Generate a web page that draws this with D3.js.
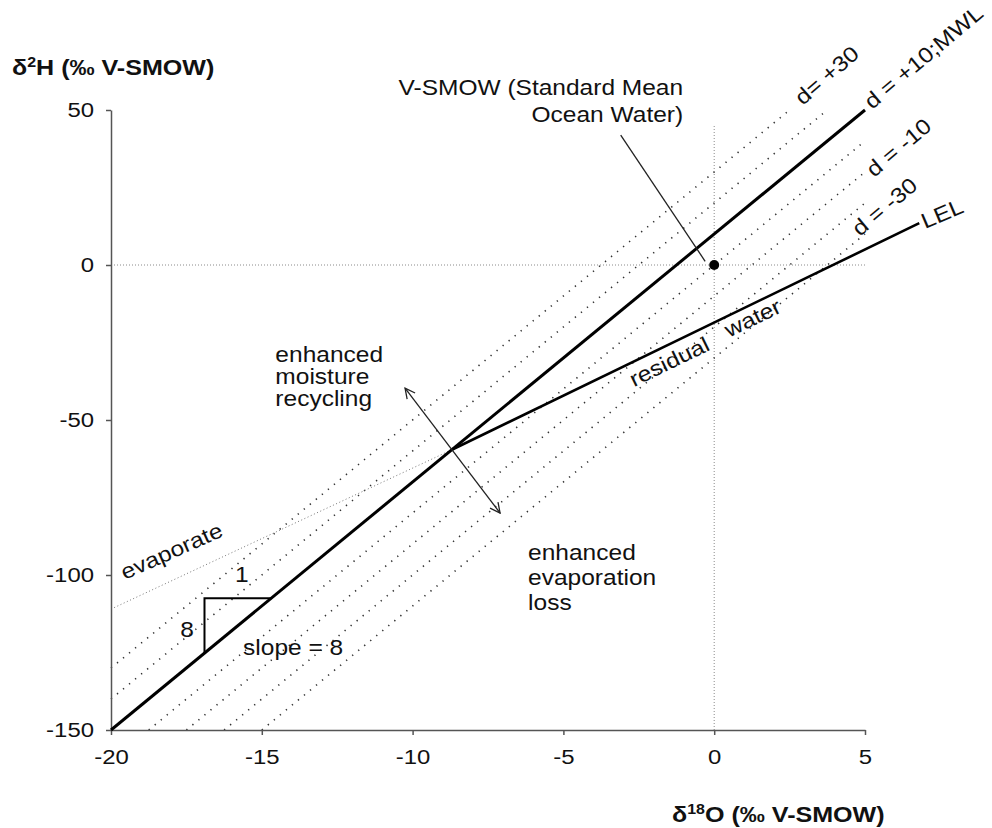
<!DOCTYPE html>
<html>
<head>
<meta charset="utf-8">
<script src="https://cdn.jsdelivr.net/npm/d3@7"></script>
<style>
  body { margin: 0; background: #fff; }
  svg { font-family: "Liberation Sans", Arial, sans-serif; }
</style>
</head>
<body>
<div id="chart1"></div>
<script>
// axis ticks
var xTicks = [-20, -15, -10, -5, 0, 5];
var yTicks = [-150, -100, -50, 0, 50];

// dotted d-excess lines, start and end points (d18O, d2H)
var dValues = [30, 20, 0, -10, -20, -30];
var dStart = [[-20, -130], [-20, -140], [-18.75, -150], [-17.5, -150], [-16.25, -150], [-15, -150]];
var dEnd = [[2.5, 50], [3.75, 50], [5, 40], [5, 30], [5, 20], [5, 10]];

// meteoric water line (d = +10)
var mwlLine = [[-20, -150], [5, 50]];
// local evaporation line and the evaporated vapour line
var lelLine = [[-8.7, -59.6], [6.8, 13.5]];
var evapLine = [[-20, -111], [-8.7, -59.6]];
// V-SMOW point and its pointer
var smowPoint = [0, 0];
var smowPointer = [[-3.1, 41.9], [-0.3, 1.2]];
// slope triangle
var slopeTri = [[-16.9, -125.2], [-16.9, -107.5], [-14.69, -107.5]];
// double arrow through the junction
var recycleArrow = [[-10.25, -39.7], [-7.1, -80]];
// zero lines
var zeroH = [[-20, 0], [5, 0]];
var zeroV = [[0, -150], [0, 45]];

var w = 992, h = 828;
var sx = 1.14; // horizontal stretch of the lettering
var fs = 21.5;

var xScale = d3.scaleLinear().domain([-20, 5]).range([111, 865]);
var yScale = d3.scaleLinear().domain([-150, 50]).range([730, 110]);

var svg = d3.select("#chart1")
    .append("svg")
    .attr("width", w)
    .attr("height", h);

var defs = svg.append("defs");
defs.append("marker")
    .attr("id", "arr")
    .attr("viewBox", "0 0 12 12")
    .attr("refX", 11)
    .attr("refY", 6)
    .attr("markerWidth", 12)
    .attr("markerHeight", 12)
    .attr("markerUnits", "userSpaceOnUse")
    .attr("orient", "auto-start-reverse")
    .append("path")
    .attr("d", "M1,1 L11,6 L1,11")
    .attr("fill", "none")
    .attr("stroke", "#222")
    .attr("stroke-width", 1.3);

var line = d3.line()
    .x(function(d) { return xScale(d[0]); })
    .y(function(d) { return yScale(d[1]); });

// zero reference lines
svg.append("path").datum(zeroH)
    .attr("d", line)
    .attr("fill", "none")
    .attr("stroke", "#8a8a8a")
    .attr("stroke-width", 1)
    .attr("stroke-dasharray", "1,2");
svg.append("path").datum(zeroV)
    .attr("d", line)
    .attr("fill", "none")
    .attr("stroke", "#8a8a8a")
    .attr("stroke-width", 1)
    .attr("stroke-dasharray", "1,2");

// dotted d-excess lines
svg.selectAll(".dline")
    .data(dValues)
    .enter()
    .append("path")
    .attr("class", "dline")
    .attr("d", function(d, i) { return line([dStart[i], dEnd[i]]); })
    .attr("fill", "none")
    .attr("stroke", "#333")
    .attr("stroke-width", 1.6)
    .attr("stroke-dasharray", "1.3,6.5");

// evaporate line
svg.append("path").datum(evapLine)
    .attr("d", line)
    .attr("fill", "none")
    .attr("stroke", "#777")
    .attr("stroke-width", 1)
    .attr("stroke-dasharray", "1,2.5");

// axes
var yAxis = svg.append("g")
    .attr("transform", "translate(" + xScale(-20) + ",0)")
    .call(d3.axisLeft(yScale).tickValues(yTicks).tickSize(5).tickSizeOuter(0).tickPadding(12));
var xAxis = svg.append("g")
    .attr("transform", "translate(0," + yScale(-150) + ")")
    .call(d3.axisBottom(xScale).tickValues(xTicks).tickSize(5).tickSizeOuter(0).tickPadding(14));

[yAxis, xAxis].forEach(function(a) {
  a.select(".domain").attr("stroke", "#555").attr("stroke-width", 1.5);
  a.selectAll(".tick line").attr("stroke", "#555").attr("stroke-width", 1.5);
  a.selectAll(".tick text")
    .attr("font-size", 21)
    .attr("font-family", "Liberation Sans, Arial, sans-serif")
    .attr("fill", "#111")
    .text(function(d) { return d; });
});
yAxis.selectAll(".tick text")
    .attr("x", -17 / sx)
    .attr("transform", "scale(" + sx + ",1)");
xAxis.selectAll(".tick text")
    .attr("transform", "scale(" + sx + ",1)");

// main lines
svg.append("path").datum(mwlLine)
    .attr("d", line)
    .attr("fill", "none")
    .attr("stroke", "#000")
    .attr("stroke-width", 3);
svg.append("path").datum(lelLine)
    .attr("d", line)
    .attr("fill", "none")
    .attr("stroke", "#000")
    .attr("stroke-width", 2.6);

// slope triangle
svg.append("path").datum(slopeTri)
    .attr("d", line)
    .attr("fill", "none")
    .attr("stroke", "#000")
    .attr("stroke-width", 2);

// double arrow
svg.append("path").datum(recycleArrow)
    .attr("d", line)
    .attr("fill", "none")
    .attr("stroke", "#222")
    .attr("stroke-width", 1.3)
    .attr("marker-start", "url(#arr)")
    .attr("marker-end", "url(#arr)");

// V-SMOW pointer and point
svg.append("path").datum(smowPointer)
    .attr("d", line)
    .attr("fill", "none")
    .attr("stroke", "#222")
    .attr("stroke-width", 1.3);
svg.append("circle")
    .attr("cx", xScale(smowPoint[0]))
    .attr("cy", yScale(smowPoint[1]))
    .attr("r", 5)
    .attr("fill", "#000");

// text helper
function label(x, y, str, rot, anchor, size, weight) {
  return svg.append("text")
    .attr("transform", "translate(" + x + "," + y + ") rotate(" + (rot || 0) + ") scale(" + sx + ",1)")
    .attr("text-anchor", anchor || "start")
    .attr("font-size", size || fs)
    .attr("font-weight", weight || "normal")
    .attr("fill", "#111")
    .text(str);
}

label(xScale(-1.03), yScale(54.8), "V-SMOW (Standard Mean", 0, "end");
label(xScale(-1.03), yScale(46.1), "Ocean Water)", 0, "end");

["enhanced", "moisture", "recycling"].forEach(function(s, i) {
  label(xScale(-14.55), yScale(-31.3) + i * 22, s);
});
["enhanced", "evaporation", "loss"].forEach(function(s, i) {
  label(xScale(-6.17), yScale(-95.2) + i * 25, s);
});

label(xScale(-15.62), yScale(-125.8), "slope = 8");
label(xScale(-15.66), yScale(-102.3), "1", 0, "middle");
label(xScale(-17.25), yScale(-120), "8", 0, "end");
label(xScale(-19.54), yScale(-101.6), "evaporate", -24);
label(xScale(-2.66), yScale(-39.4), "residual", -26);
label(xScale(0.49), yScale(-23.5), "water", -26);
label(xScale(2.94), yScale(51.3), "d= +30", -41);
label(xScale(5.23), yScale(50), "d = +10;MWL", -40);
label(xScale(5.3), yScale(28.1), "d = -10", -40);
label(xScale(4.83), yScale(9), "d = -30", -40);
label(xScale(6.99), yScale(11.6), "LEL", -23);

// axis titles
var yt = label(12, 75, "", 0, "start", 22, "bold");
yt.append("tspan").text("δ");
yt.append("tspan").attr("font-size", 14).attr("dy", -8).text("2");
yt.append("tspan").attr("dy", 8).text("H (‰ V-SMOW)");

var xt = label(672, 822, "", 0, "start", 22, "bold");
xt.append("tspan").text("δ");
xt.append("tspan").attr("font-size", 14).attr("dy", -8).text("18");
xt.append("tspan").attr("dy", 8).text("O (‰ V-SMOW)");
</script>
</body>
</html>
